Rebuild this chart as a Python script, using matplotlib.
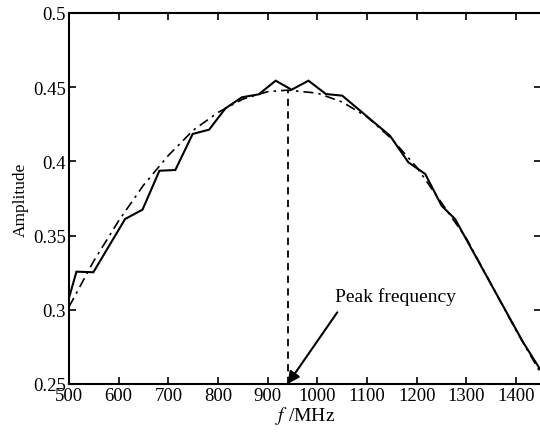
import matplotlib
matplotlib.use("Agg")
import matplotlib.pyplot as plt

plt.rcParams['font.family'] = ['Liberation Serif', 'DejaVu Serif']
plt.rcParams['mathtext.fontset'] = 'stix'

# measured amplitude (solid)
meas_f = [500, 515, 549, 613, 648, 682, 714, 749, 782, 815, 848, 882, 916, 948,
          982, 1017, 1050, 1146, 1183, 1217, 1250, 1277, 1414, 1450]
meas_a = [0.308, 0.3257, 0.3253, 0.3612, 0.3675, 0.3937, 0.3942, 0.4185, 0.4214,
          0.4358, 0.4432, 0.4452, 0.4544, 0.4483, 0.4544, 0.4454, 0.4443, 0.4173,
          0.3994, 0.3915, 0.3701, 0.3612, 0.2781, 0.259]

# fitted curve (dash-dot)
fit_f = [500, 550, 600, 650, 700, 750, 800, 850, 900, 940, 1000, 1050, 1100,
         1150, 1200, 1250, 1300, 1350, 1400, 1450]
fit_a = [0.302, 0.333, 0.360, 0.384, 0.404, 0.421, 0.433, 0.442, 0.447, 0.448,
         0.446, 0.440, 0.430, 0.415, 0.396, 0.372, 0.348, 0.317, 0.286, 0.257]

peak_f = 940
peak_a = 0.448

xticks = [500, 600, 700, 800, 900, 1000, 1100, 1200, 1300, 1400]
yticks = [0.25, 0.3, 0.35, 0.4, 0.45, 0.5]
ytick_labels = ['0.25', '0.3', '0.35', '0.4', '0.45', '0.5']

fig = plt.figure(figsize=(5.4, 4.35), dpi=100)
ax = fig.add_axes([69/540, 50/435, 472/540, 371/435])

ax.plot(meas_f, meas_a, color='black', lw=1.5, solid_joinstyle='miter')
ax.plot(fit_f, fit_a, color='black', lw=1.2, linestyle=(0, (6, 3, 1.5, 3)))
ax.plot([peak_f, peak_f], [0.25, peak_a], color='black', lw=1.3,
        linestyle=(0, (4, 3)))

ax.annotate('', xy=(peak_f, 0.25), xytext=(1040, 0.2983),
            arrowprops=dict(arrowstyle='-|>', color='black', lw=1.5,
                            mutation_scale=18, shrinkA=0, shrinkB=0))
ax.text(1158, 0.3093, 'Peak frequency', fontsize=14, ha='center', va='center')

ax.set_xlim(500, 1450)
ax.set_ylim(0.25, 0.5)
ax.set_xticks(xticks)
ax.set_yticks(yticks)
ax.set_yticklabels(ytick_labels)
ax.tick_params(direction='in', top=True, right=True, length=5, width=1.2,
               labelsize=13.5, pad=2)
for s in ax.spines.values():
    s.set_linewidth(1.5)

ax.set_xlabel(r'$f$ /MHz', fontsize=14, labelpad=0)
ax.set_ylabel('Amplitude', fontsize=12.5, labelpad=3)

fig.savefig('out.png', dpi=100)
